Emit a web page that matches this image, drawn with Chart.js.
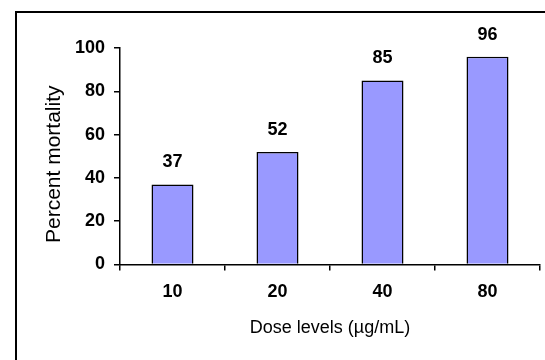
<!DOCTYPE html>
<html>
<head>
<meta charset="utf-8">
<script src="https://cdn.jsdelivr.net/npm/chart.js@4/dist/chart.umd.min.js"></script>
<style>
  html, body { margin: 0; padding: 0; background: #fff; }
  #wrap { width: 545px; height: 360px; position: relative; }
</style>
</head>
<body>
<div id="wrap"><canvas id="c" width="545" height="360"></canvas></div>
<script>
const categories = ['10', '20', '40', '80'];
const mortality = [37, 52, 85, 96];
const yTitle = 'Percent mortality';
const xTitle = 'Dose levels (µg/mL)';

const FONT = '"Liberation Sans", Arial, sans-serif';

const framePlugin = {
  id: 'frame',
  beforeDraw(chart) {
    const ctx = chart.ctx;
    ctx.save();
    ctx.fillStyle = '#fff';
    ctx.fillRect(0, 0, chart.width, chart.height);
    ctx.strokeStyle = '#000';
    ctx.lineWidth = 2;
    ctx.strokeRect(16, 12, 700, 700);
    ctx.restore();
  },
  afterDraw(chart) {
    const ctx = chart.ctx;
    const a = chart.chartArea;
    ctx.save();
    ctx.fillStyle = '#000';
    ctx.font = '21px ' + FONT;
    ctx.textAlign = 'center';
    ctx.textBaseline = 'middle';
    ctx.translate(a.left - 66, (a.top + a.bottom) / 2 + 8);
    ctx.rotate(-Math.PI / 2);
    ctx.fillText(yTitle, 0, 0);
    ctx.restore();
  }
};

const labelPlugin = {
  id: 'barLabels',
  afterDatasetsDraw(chart) {
    const ctx = chart.ctx;
    const meta = chart.getDatasetMeta(0);
    const data = chart.data.datasets[0].data;
    ctx.save();
    ctx.fillStyle = '#000';
    ctx.font = 'bold 18px ' + FONT;
    ctx.textAlign = 'center';
    ctx.textBaseline = 'middle';
    meta.data.forEach((bar, i) => {
      ctx.fillText(String(data[i]), bar.x, bar.y - 22);
    });
    ctx.restore();
  }
};

new Chart(document.getElementById('c'), {
  type: 'bar',
  data: {
    labels: categories,
    datasets: [{
      data: mortality,
      backgroundColor: '#9999FF',
      borderColor: '#000',
      borderWidth: 1.5,
      barPercentage: 0.8,
      categoryPercentage: 0.5
    }]
  },
  options: {
    responsive: false,
    animation: false,
    devicePixelRatio: 1,
    layout: { padding: { top: 48, right: 5, left: 0, bottom: 0 } },
    plugins: { legend: { display: false }, tooltip: { enabled: false } },
    scales: {
      x: {
        grid: { offset: true, drawOnChartArea: false, drawTicks: true, tickLength: 6, color: '#000', lineWidth: 1.5 },
        border: { display: true, color: '#000', width: 1.5 },
        ticks: { color: '#000', font: { family: FONT, size: 18, weight: 'bold' }, padding: 11, maxRotation: 0 },
        title: { display: true, text: xTitle, color: '#000', font: { family: FONT, size: 18 }, padding: { top: 0, bottom: 21 } },
        afterFit(scale) { scale.height = 95.5; }
      },
      y: {
        min: 0, max: 100,
        grid: { drawOnChartArea: false, drawTicks: true, tickLength: 6, color: '#000', lineWidth: 1.5 },
        border: { display: true, color: '#000', width: 1.5 },
        ticks: { stepSize: 20, color: '#000', font: { family: FONT, size: 18, weight: 'bold' }, padding: 9 },
        afterFit(scale) { scale.width = 120; }
      }
    }
  },
  plugins: [framePlugin, labelPlugin]
});
</script>
</body>
</html>
